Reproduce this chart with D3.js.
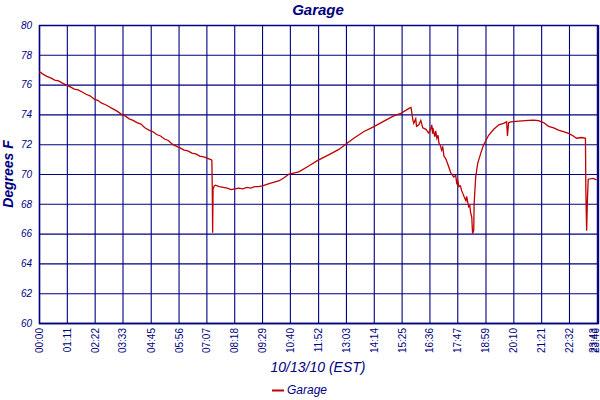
<!DOCTYPE html>
<html>
<head>
<meta charset="utf-8">
<script src="https://cdn.jsdelivr.net/npm/d3@7"></script>
<style>
  html, body { margin: 0; padding: 0; background: #fff; }
  svg { display: block; font-family: "Liberation Sans", Arial, sans-serif; }
</style>
</head>
<body>
<svg id="chart" width="600" height="400"></svg>
<script>
// ---- data ----
const chartTitle = "Garage";
const xTitle = "10/13/10 (EST)";
const yTitle = "Degrees F";
const seriesName = "Garage";

// minutes since midnight
const minutes = [0,5,10,20,30,40,50,60,71,80,90,100,110,120,130,142,150,160,170,180,190,200,213,220,230,240,250,260,270,284,290,300,310,320,330,340,355,360,370,380,390,400,410,420,426,435,440,441,442,443,444,447,450,460,470,480,490,500,510,520,530,540,550,560,570,587,600,613,625,638,663,689,710,740,765,780,803,829,852,880,905,923,944,949,954,956,961,963,969,974,979,987,994,999,1002,1004,1005,1007,1010,1012,1015,1018,1020,1024,1027,1030,1033,1038,1045,1050,1058,1063,1066,1068,1071,1075,1078,1081,1084,1089,1091,1096,1099,1101,1104,1106,1109,1110,1114,1119,1127,1134,1147,1160,1173,1185,1193,1195,1198,1203,1224,1249,1262,1274,1287,1300,1313,1325,1338,1351,1363,1371,1384,1394,1395,1397,1399,1401,1414,1422];
const temps = [76.85,76.8,76.7,76.55,76.45,76.3,76.25,76.1,75.95,75.85,75.7,75.65,75.5,75.35,75.25,75.0,74.95,74.75,74.65,74.5,74.35,74.2,73.95,73.9,73.7,73.6,73.45,73.35,73.1,72.9,72.85,72.65,72.55,72.35,72.25,72.0,71.8,71.75,71.6,71.55,71.4,71.35,71.2,71.15,71.1,71.0,70.95,70.9,69.1,66.06,69.0,69.2,69.25,69.15,69.1,69.05,68.95,69.0,69.05,69.0,69.1,69.05,69.15,69.15,69.2,69.35,69.45,69.55,69.75,70.0,70.15,70.55,70.9,71.3,71.65,71.95,72.4,72.85,73.15,73.55,73.9,74.07,74.4,74.47,73.6,73.4,73.7,73.2,73.3,73.6,73.1,73.0,72.75,73.0,73.3,72.7,73.1,72.8,72.5,72.9,72.4,72.6,72.1,71.9,71.6,71.8,71.2,71.0,70.5,70.1,69.8,69.9,69.3,69.6,69.15,69.2,68.9,68.7,68.5,68.2,68.5,67.8,67.9,67.4,67.1,66.0,66.2,68.0,69.8,70.7,71.4,71.95,72.6,73.0,73.3,73.4,73.5,72.55,73.45,73.5,73.55,73.6,73.62,73.58,73.45,73.2,73.1,72.95,72.85,72.73,72.55,72.4,72.45,72.4,68.9,66.2,68.25,69.65,69.7,69.6];

const xTickLabels = ["00:00","01:11","02:22","03:33","04:45","05:56","07:07","08:18","09:29","10:40","11:52","13:03","14:14","15:25","16:36","17:47","18:59","20:10","21:21","22:32","23:43","23:46"];
const yTicks = [60,62,64,66,68,70,72,74,76,78,80];
const xDomain = [0, 1426];
const yDomain = [60, 80];

// ---- layout ----
const navy = "#000080";
const red = "#C00000";
const m = { left: 39, right: 598, top: 25, bottom: 323 };

const svg = d3.select("#chart");
svg.append("rect").attr("width", 600).attr("height", 400).attr("fill", "#fff");

const toMin = s => { const [h, mm] = s.split(":").map(Number); return h * 60 + mm; };

const x = d3.scaleLinear().domain(xDomain).range([m.left, m.right]);
const y = d3.scaleLinear().domain(yDomain).range([m.bottom, m.top]);

// grid
const xTickVals = xTickLabels.map(toMin);
const gx = svg.append("g").attr("transform", `translate(0,${m.bottom})`)
  .call(d3.axisBottom(x).tickValues(xTickVals)
    .tickSize(-(m.bottom - m.top)).tickPadding(4)
    .tickFormat((d, i) => xTickLabels[i]));
gx.select(".domain").attr("stroke", navy).attr("stroke-width", 1.3);
gx.selectAll(".tick line").attr("stroke", navy).attr("stroke-width", 1.1);
gx.selectAll(".tick text")
  .attr("fill", navy).attr("font-size", 10)
  .attr("text-anchor", "end")
  .attr("dy", "0.35em")
  .attr("transform", "rotate(-90)")
  .attr("x", -5)
  .attr("y", (d, i) => i >= xTickLabels.length - 2 ? -3.5 : 0);

const gy = svg.append("g").attr("transform", `translate(${m.left},0)`)
  .call(d3.axisLeft(y).tickValues(yTicks)
    .tickSize(-(m.right - m.left)).tickPadding(7));
gy.select(".domain").attr("stroke", navy).attr("stroke-width", 1.3);
gy.selectAll(".tick line").attr("stroke", navy).attr("stroke-width", 1.1);
gy.selectAll(".tick text")
  .attr("fill", navy).attr("font-size", 10)
  .attr("font-style", "italic");

// right border
svg.append("line").attr("x1", m.right).attr("x2", m.right)
  .attr("y1", m.top).attr("y2", m.bottom).attr("stroke", navy).attr("stroke-width", 1.1);

// line
const data = minutes.map((t, i) => ({ t, v: temps[i] }));
svg.append("path").datum(data)
  .attr("fill", "none").attr("stroke", red).attr("stroke-width", 1.3)
  .attr("stroke-linejoin", "miter")
  .attr("d", d3.line().x(d => x(d.t)).y(d => y(d.v)));

// titles
svg.append("text").attr("x", 318).attr("y", 15).attr("text-anchor", "middle")
  .attr("font-size", 15).attr("font-weight", "bold").attr("font-style", "italic")
  .attr("fill", navy).text(chartTitle);

svg.append("text").attr("x", 318).attr("y", 372).attr("text-anchor", "middle")
  .attr("font-size", 14).attr("font-style", "italic")
  .attr("fill", navy).text(xTitle);

svg.append("text").attr("transform", "translate(13,174) rotate(-90)")
  .attr("text-anchor", "middle")
  .attr("font-size", 14).attr("font-weight", "bold").attr("font-style", "italic")
  .attr("fill", navy).text(yTitle);

// legend
svg.append("line").attr("x1", 272).attr("x2", 284).attr("y1", 390.5).attr("y2", 390.5)
  .attr("stroke", red).attr("stroke-width", 2);
svg.append("text").attr("x", 287).attr("y", 394)
  .attr("font-size", 12).attr("font-style", "italic")
  .attr("fill", navy).text(seriesName);
</script>
</body>
</html>
